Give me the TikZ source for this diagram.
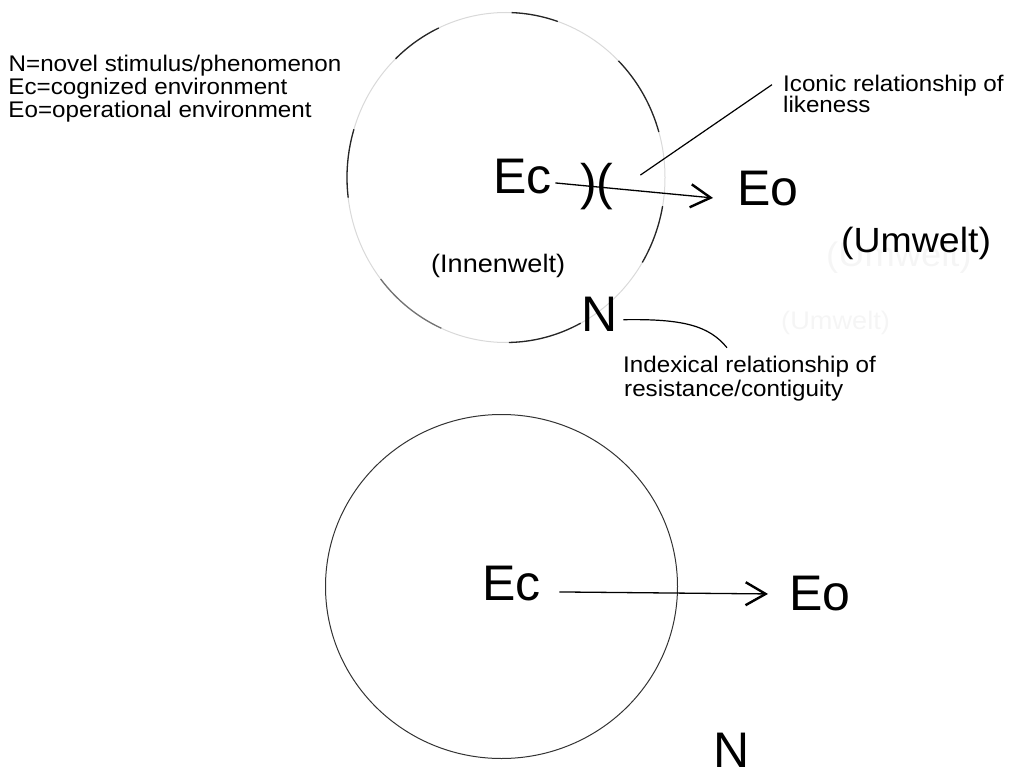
\documentclass[tikz,border=0pt]{standalone}
\usepackage{fontspec}
\setmainfont{Liberation Sans}
\newfontfamily\smallf[FakeStretch=1.07]{Liberation Sans}
\usetikzlibrary{arrows.meta}
\begin{document}
\begin{tikzpicture}[x=1pt,y=-1pt,
  big/.style={inner sep=0pt, anchor=base west, font=\fontsize{50}{60}\selectfont},
  lab/.style={inner sep=0pt, anchor=base west, font=\smallf\fontsize{22.6}{27}\selectfont},
  arr/.style={line width=1.3pt, -{Straight Barb[length=20pt,width=23pt,line width=2.4pt]}},
  leader/.style={line width=1.2pt},
  sketch/.style={line width=1.3pt, black!85},
  faint/.style={line width=1pt, black!15},
]
\useasboundingbox (0,0) rectangle (1009,770);

% legend
\node[lab] (leg1) at (8.5,72) {N=novel stimulus/phenomenon};
\node[lab] (leg2) at (8.3,95) {Ec=cognized environment};
\node[lab] (leg3) at (8.3,118) {Eo=operational environment};

% labels
\node[lab] (ic1) at (783,92) {Iconic relationship of};
\node[lab] (ic2) at (783,113) {likeness};
\node[lab] (ix1) at (623,372) {Indexical relationship of};
\node[lab] (ix2) at (624,396) {resistance/contiguity};
\node[lab, font=\smallf\fontsize{25.3}{30}\selectfont] (inn) at (431,272) {(Innenwelt)};
\node[lab, font=\smallf\fontsize{34}{40}\selectfont, text=black!4] (ghost1) at (826,266) {(Umwelt)};
\node[lab, font=\smallf\fontsize{25.4}{30}\selectfont, text=black!4] (ghost2) at (781,329) {(Umwelt)};
\node[lab, font=\smallf\fontsize{35}{42}\selectfont] (umw) at (841,252) {(Umwelt)};

% top sketched circle
\coordinate (tc) at (506,177.5);
\draw[faint] (tc) ellipse[x radius=159, y radius=165];
\foreach \a/\b in {-88/-71, -134/-115, 173/197, -45/-16, 10/31, 62/89}{
  \draw[sketch] (tc) ++(\a:159 and 165) arc[start angle=\a, end angle=\b, x radius=159, y radius=165];
}
\draw[sketch, black!55] (tc) ++(114:159 and 165) arc[start angle=114, end angle=142, x radius=159, y radius=165];

% bottom circle
\coordinate (bc) at (501.5,586.5);
\draw[line width=1pt, black!80] (bc) ellipse[x radius=176, y radius=172];

% big labels
\node[big] (ec1) at (493,194) {Ec};
\node[big] (eo1) at (737,206) {Eo};
\node[big] (n1) at (581,331) {N};
\node[big] (bar) at (580,200) {)(};
\node[big] (ec2) at (482,600) {Ec};
\node[big] (eo2) at (789,610) {Eo};
\node[big] (n2) at (713,767) {N};

% connectors
\draw[arr] ([shift={(3.6,5.9)}]ec1.east) -- ([shift={(-24,8.9)}]eo1.west);
\draw[arr] ([shift={(18.6,8.9)}]ec2.east) -- ([shift={(-21,0.9)}]eo2.west);
\draw[leader] ([shift={(26.7,-12)}]bar.east) -- ([shift={(-11,-1.5)}]ic1.west);
\draw[leader] ([shift={(5.9,5.9)}]n1.east) .. controls +(60,-1) and +(-18,-22) .. ([shift={(104,-7.7)}]ix1.north west);
\end{tikzpicture}
\end{document}
